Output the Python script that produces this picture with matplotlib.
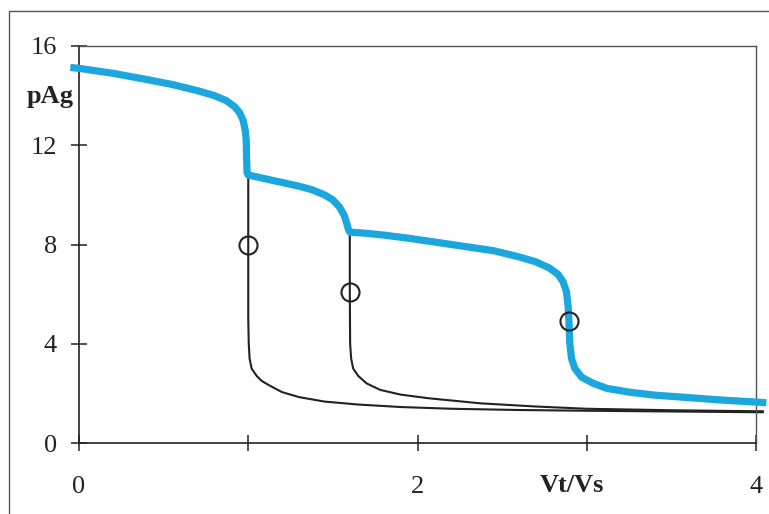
import matplotlib
matplotlib.use("Agg")
import matplotlib.pyplot as plt
from matplotlib.patches import Rectangle

plt.rcParams['font.family'] = ['Liberation Serif', 'DejaVu Serif']

# Titration of a halide mixture with Ag+: pAg vs. titrant volume ratio
mix_x = [-0.03, 0.0, 0.2, 0.4, 0.55, 0.7, 0.8, 0.87, 0.92, 0.95, 0.97, 0.982, 0.988,
         0.99, 0.993, 1.0, 1.1, 1.2, 1.3, 1.38, 1.45, 1.5, 1.54, 1.565, 1.58, 1.59,
         1.6, 1.7, 1.8, 1.95, 2.1, 2.3, 2.45, 2.6, 2.7, 2.78, 2.83, 2.86, 2.88,
         2.89, 2.895, 2.9, 2.91, 2.93, 2.97, 3.04, 3.12, 3.25, 3.4, 3.6, 3.8, 4.0, 4.04]
mix_y = [15.12, 15.1, 14.9, 14.65, 14.45, 14.2, 14.0, 13.8, 13.55, 13.3, 13.0, 12.6, 12.2,
         11.5, 10.9, 10.8, 10.65, 10.5, 10.35, 10.2, 10.0, 9.8, 9.5, 9.2, 8.9, 8.65,
         8.5, 8.45, 8.38, 8.25, 8.1, 7.9, 7.75, 7.5, 7.3, 7.05, 6.8, 6.5, 6.1,
         5.5, 4.9, 4.0, 3.4, 3.0, 2.65, 2.4, 2.2, 2.05, 1.93, 1.83, 1.73, 1.65, 1.63]

first_x = [1.0, 1.0, 1.0, 1.003, 1.008, 1.02, 1.05, 1.08, 1.13, 1.2, 1.3, 1.45, 1.65,
           1.9, 2.2, 2.6, 3.0, 3.5, 4.0, 4.04]
first_y = [10.8, 8.0, 5.0, 4.0, 3.4, 3.0, 2.7, 2.5, 2.3, 2.05, 1.85, 1.67, 1.55,
           1.45, 1.38, 1.33, 1.3, 1.27, 1.24, 1.24]

second_x = [1.6, 1.6, 1.602, 1.608, 1.62, 1.65, 1.7, 1.78, 1.9, 2.07, 2.37, 2.7,
            3.0, 3.5, 4.0, 4.04]
second_y = [8.5, 6.1, 4.0, 3.4, 3.0, 2.7, 2.4, 2.14, 1.95, 1.8, 1.6, 1.47,
            1.38, 1.32, 1.28, 1.28]

equiv_x = [1.0, 1.6, 2.895]
equiv_y = [8.0, 6.1, 4.9]

x_ticks = [0, 1, 2, 3, 4]
x_labels = ['0', '', '2', '', '4']
y_ticks = [0, 4, 8, 12, 16]

fig = plt.figure(figsize=(7.69, 5.14), dpi=100)
ax = fig.add_axes([79 / 769, 1 - 443 / 514, 677 / 769, 397 / 514])

ink = '#222222'
ax.plot(first_x, first_y, color=ink, lw=1.5, clip_on=False, zorder=2)
ax.plot(second_x, second_y, color=ink, lw=1.5, clip_on=False, zorder=2)
ax.plot(mix_x, mix_y, color='#1ba7dd', lw=5.2, clip_on=False, zorder=3,
        solid_joinstyle='round')
ax.plot(equiv_x, equiv_y, linestyle='none', marker='o', markersize=13,
        markerfacecolor='none', markeredgecolor=ink, markeredgewidth=1.5, zorder=4)

ax.set_xlim(0, 4)
ax.set_ylim(0, 16)
ax.set_xticks(x_ticks)
ax.set_xticklabels(x_labels)
ax.set_yticks(y_ticks)

for side in ('left', 'bottom'):
    ax.spines[side].set_color(ink)
    ax.spines[side].set_linewidth(1.2)
for side in ('top', 'right'):
    ax.spines[side].set_color('#555555')
    ax.spines[side].set_linewidth(1.0)
    ax.spines[side].set_linestyle((0, (2, 1)))

ax.tick_params(axis='y', direction='inout', length=12, width=1.1, color=ink,
               labelsize=19, pad=10, labelcolor='#222222')
ax.tick_params(axis='x', direction='inout', length=12, width=1.1, color=ink,
               labelsize=19, pad=18, labelcolor='#222222')

ax.text((50 - 79) / 677, 1 - (97 - 46) / 397, 'pAg', transform=ax.transAxes,
        ha='center', va='center', fontsize=19, fontweight='bold', color='#222222')
ax.text((572 - 79) / 677, -(492 - 443) / 397, 'Vt/Vs', transform=ax.transAxes,
        ha='center', va='baseline', fontsize=19, fontweight='bold', color='#222222')

# Outer frame around the whole chart
fig.patches.append(Rectangle((9 / 769, -0.1), 1.2, 0.1 + 1 - 11 / 514,
                             transform=fig.transFigure, fill=False,
                             edgecolor='#555555', lw=1.0))

fig.savefig('out.png', dpi=100)
